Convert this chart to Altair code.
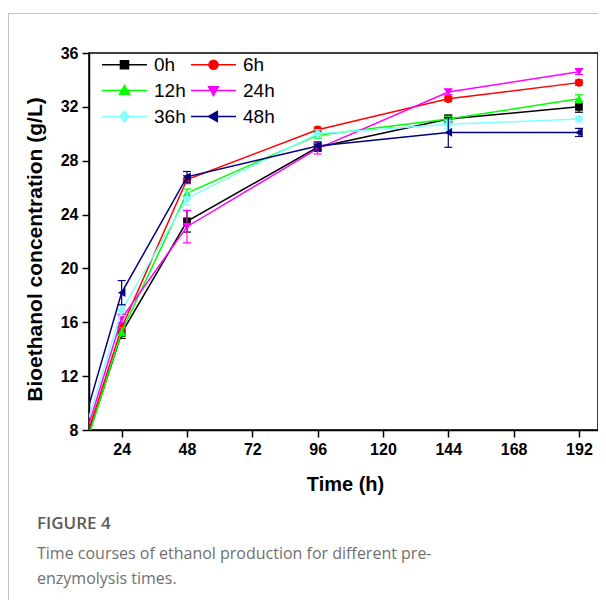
import altair as alt
import pandas as pd

# ---- data ----
times = [0, 24, 48, 96, 144, 192]
series = ["0h", "6h", "12h", "24h", "36h", "48h"]
colors = ["#000000", "#FF0000", "#00FF00", "#FF00FF", "#80FFFF", "#000080"]
shapes = ["square", "circle", "triangle-up", "triangle-down", "diamond", "triangle-left"]
sizes = [60, 70, 75, 75, 80, 75]

v_0h = [0.3, 15.2, 23.5, 29.0, 31.1, 32.0]
v_6h = [0.5, 15.6, 26.6, 30.3, 32.6, 33.8]
v_12h = [0.0, 15.3, 25.6, 29.9, 31.1, 32.6]
v_24h = [0.6, 16.3, 23.1, 28.9, 33.1, 34.6]
v_36h = [1.0, 16.9, 25.2, 30.0, 30.7, 31.1]
v_48h = [1.5, 18.2, 26.8, 29.1, 30.1, 30.1]

e_0h = [0.0, 0.4, 0.8, 0.3, 0.3, 0.4]
e_6h = [0.0, 0.3, 0.3, 0.2, 0.2, 0.2]
e_12h = [0.0, 0.3, 0.3, 0.2, 0.2, 0.3]
e_24h = [0.0, 0.3, 1.2, 0.4, 0.2, 0.2]
e_36h = [0.0, 0.4, 0.5, 0.3, 0.3, 0.2]
e_48h = [0.0, 0.9, 0.4, 0.3, 1.1, 0.3]

x_ticks = [24, 48, 72, 96, 120, 144, 168, 192]
y_ticks = [8, 12, 16, 20, 24, 28, 32, 36]
caption = ["FIGURE 4",
           "Time courses of ethanol production for different pre-",
           "enzymolysis times."]

vals = [v_0h, v_6h, v_12h, v_24h, v_36h, v_48h]
errs = [e_0h, e_6h, e_12h, e_24h, e_36h, e_48h]

rows = []
for s, vs, es in zip(series, vals, errs):
    for t, v, e in zip(times, vs, es):
        rows.append({"series": s, "t": t, "v": v, "lo": v - e, "hi": v + e})
df = pd.DataFrame(rows)

W, H = 509, 377
FONT = "Liberation Sans"

xs = alt.Scale(domain=[12, 199], nice=False, zero=False)
ys = alt.Scale(domain=[8, 36], nice=False, zero=False)

X = alt.X("t:Q", scale=xs, axis=alt.Axis(
    values=x_ticks, title="Time (h)", titleX=256, titleY=54, titleFontSize=20,
    titleBaseline="middle", titleAlign="center"))
Y = alt.Y("v:Q", scale=ys, axis=alt.Axis(
    values=y_ticks, title="Bioethanol concentration (g/L)", titleX=-54, titleFontSize=21,
    titleY=196, titleAngle=270, titleBaseline="middle", titleAlign="center"))

base = alt.Chart(df)
layers = []
for i, s in enumerate(series):
    sub = base.transform_filter(alt.datum.series == s)
    c = colors[i]
    layers.append(sub.mark_line(color=c, strokeWidth=1.5, clip=True).encode(x=X, y=Y))
    layers.append(sub.mark_rule(color=c, strokeWidth=1.2, clip=True).encode(
        x=alt.X("t:Q", scale=xs), y=alt.Y("lo:Q", scale=ys), y2="hi:Q"))
    layers.append(sub.mark_tick(color=c, orient="horizontal", size=8, thickness=1.2,
                                opacity=1, clip=True).encode(
        x=alt.X("t:Q", scale=xs), y=alt.Y("lo:Q", scale=ys)))
    layers.append(sub.mark_tick(color=c, orient="horizontal", size=8, thickness=1.2,
                                opacity=1, clip=True).encode(
        x=alt.X("t:Q", scale=xs), y=alt.Y("hi:Q", scale=ys)))
    layers.append(sub.mark_point(shape=shapes[i], filled=True, size=sizes[i], color=c,
                                 opacity=1, clip=True).encode(x=X, y=Y))

# legend symbols: line through marker (path units: 1 = 4.5 px with size 81)
line_p = "M-5,0H5"
marker_p = [
    "M-0.9,-0.9H0.9V0.9H-0.9Z",
    "M1,0A1,1,0,1,1,-1,0A1,1,0,1,1,1,0Z",
    "M0,-1.1L1.1,0.85L-1.1,0.85Z",
    "M0,1.1L1.1,-0.85L-1.1,-0.85Z",
    "M0,-1.2L1,0L0,1.2L-1,0Z",
    "M-1.1,0L0.85,-1.1L0.85,1.1Z",
]
legend_paths = [line_p + m for m in marker_p]

leg = alt.Legend(orient="none", legendX=26, legendY=2, columns=2, direction="horizontal",
                 title=None, symbolSize=81, symbolStrokeWidth=1.5, labelFont=FONT,
                 labelFontSize=19, labelColor="black", labelOffset=20,
                 columnPadding=2, rowPadding=6, padding=0)

legend_layer = base.transform_filter("false").mark_point(filled=True, opacity=1).encode(
    x=alt.X("t:Q", scale=xs), y=alt.Y("v:Q", scale=ys),
    fill=alt.Fill("series:N", scale=alt.Scale(domain=series, range=colors), legend=leg),
    stroke=alt.Stroke("series:N", scale=alt.Scale(domain=series, range=colors), legend=leg),
    shape=alt.Shape("series:N", scale=alt.Scale(domain=series, range=legend_paths), legend=leg),
)
layers.append(legend_layer)

one = alt.Data(values=[{}])
frame_top = alt.Chart(one).mark_rule(color="#c4c4c4", strokeWidth=1).encode(
    x=alt.value(-81), x2=alt.value(520), y=alt.value(-39.5))
frame_left = alt.Chart(one).mark_rule(color="#c4c4c4", strokeWidth=1).encode(
    x=alt.value(-80.5), y=alt.value(-40), y2=alt.value(560))
layers += [frame_top, frame_left]

CAP_FONT = "Open Sans"
CAP_X = -52
cap_ys = [471, 501, 526]
for k, line in enumerate(caption):
    layers.append(alt.Chart(one).mark_text(
        align="left", baseline="middle", font=CAP_FONT,
        fontSize=17 if k == 0 else 16,
        fontWeight=600 if k == 0 else "normal",
        color="#5a5a5a" if k == 0 else "#707070").encode(
        x=alt.value(CAP_X), y=alt.value(cap_ys[k]), text=alt.value(line)))

chart = alt.layer(*layers).properties(
    width=W, height=H,
    autosize=alt.AutoSizeParams(type="none"),
    padding={"left": 81, "top": 45, "right": 0, "bottom": 170},
).configure_view(stroke="black", strokeWidth=1.5).configure_axis(
    grid=False, labelFont=FONT, labelFontWeight="bold", labelFontSize=16,
    labelColor="black", titleFont=FONT, titleFontWeight="bold",
    titleColor="black", tickColor="black", tickSize=7, tickWidth=1.5,
    domainColor="black", domainWidth=1.5, labelPadding=4,
)

chart.save("out.html", embed_options={"renderer": "svg", "actions": False})
